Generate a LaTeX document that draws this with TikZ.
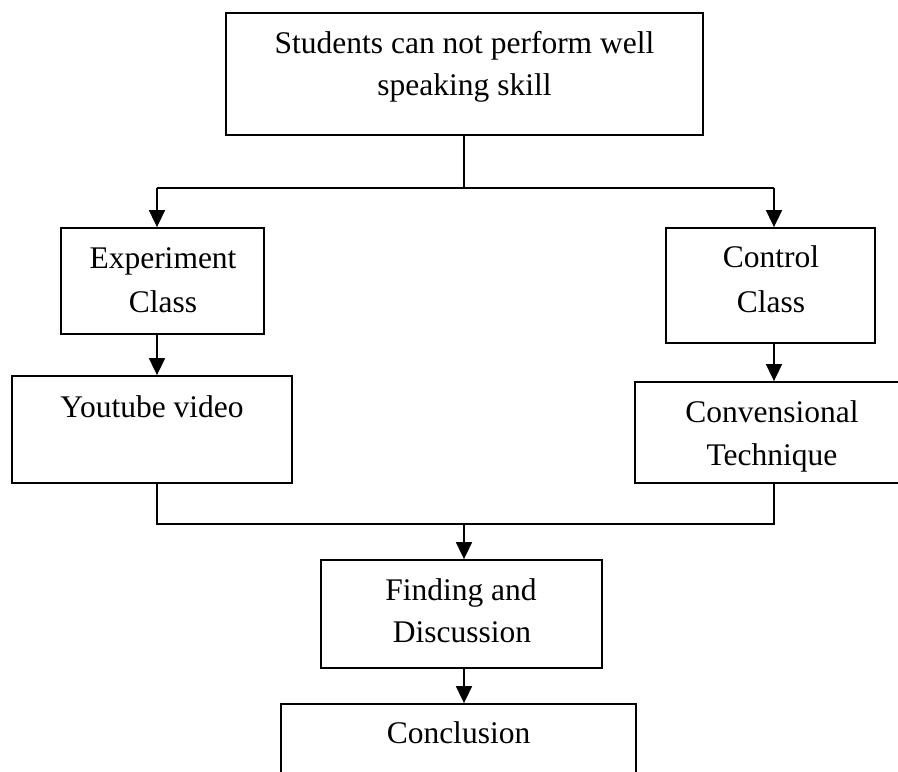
\documentclass[tikz,border=0pt]{standalone}
\usepackage{fontspec}
\setmainfont{Liberation Serif}
\usetikzlibrary{arrows.meta}
\begin{document}
\begin{tikzpicture}[x=1pt,y=-1pt,
  box/.style={draw,line width=1.8pt,rectangle,inner sep=0pt},
  txt/.style={font=\fontsize{31.5}{43}\selectfont,anchor=base,inner sep=0pt},
  conn/.style={line width=1.7pt},
  arr/.style={line width=1.7pt,-{Triangle[length=17pt,width=16pt]}}]
\useasboundingbox (0,0) rectangle (898,772);
\clip (0,0) rectangle (898,772);
% boxes
\node[box,minimum width=477pt,minimum height=122pt] (top) at (464.5,74) {};
\node[box,minimum width=203pt,minimum height=106pt] (exp) at (162.5,281) {};
\node[box,minimum width=209pt,minimum height=115pt] (ctl) at (770.5,285.5) {};
\node[box,minimum width=280pt,minimum height=107pt] (yt) at (152,429.5) {};
\node[box,minimum width=285pt,minimum height=101pt] (conv) at (777.5,432.5) {};
\node[box,minimum width=281pt,minimum height=108pt] (find) at (461.5,614) {};
\node[box,minimum width=355pt,minimum height=96pt] (concl) at (458.5,752) {};
% texts
\node[txt] (t1) at (464.5,53) {Students can not perform well};
\node[txt] (t2) at (464.5,95) {speaking skill};
\node[txt] (e1) at (163,268) {Experiment};
\node[txt] (e2) at (163,312) {Class};
\node[txt] (c1) at (771,267) {Control};
\node[txt] (c2) at (771,312) {Class};
\node[txt] (y1) at (152,417) {Youtube video};
\node[txt] (v1) at (772,422) {Convensional};
\node[txt] (v2) at (772,465) {Technique};
\node[txt] (f1) at (461,600) {Finding and};
\node[txt] (f2) at (462,642) {Discussion};
\node[txt] (k1) at (458.5,743) {Conclusion};
% junctions
\coordinate (jt) at (464,188);
\coordinate (jl) at (157,188);
\coordinate (jr) at (774,188);
\coordinate (bl) at (157,524);
\coordinate (br) at (774,524);
\coordinate (bm) at (464,524);
% connectors
\draw[conn] (top.south -| jt) -- (jt);
\draw[conn] (jl) -- (jr);
\draw[arr] (jl) -- (jl |- exp.north);
\draw[arr] (jr) -- (jr |- ctl.north);
\draw[arr] (exp.south -| jl) -- (jl |- yt.north);
\draw[arr] (ctl.south -| jr) -- (jr |- conv.north);
\draw[conn] (yt.south -| bl) -- (bl) -- (br) -- (conv.south -| br);
\draw[arr] (bm) -- (bm |- find.north);
\draw[arr] (find.south -| bm) -- (bm |- concl.north);
\end{tikzpicture}
\end{document}
